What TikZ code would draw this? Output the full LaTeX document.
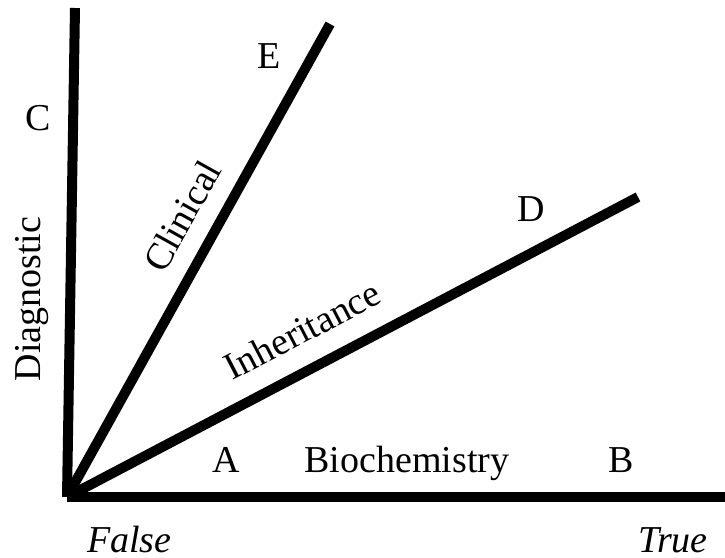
\documentclass[tikz,border=0pt]{standalone}
\usepackage{fontspec}
\setmainfont{Liberation Serif}

\begin{document}
\begin{tikzpicture}[
	x=1pt, y=-1pt,
	axis/.style={line width=10pt, line cap=butt},
	lbl/.style={font=\fontsize{38}{45}\selectfont, inner sep=0pt},
	tick/.style={font=\fontsize{38}{45}\selectfont\itshape, inner sep=0pt},
	]
	
	\useasboundingbox (0,0) rectangle (725,557);
	
	\coordinate (origin) at (67, 497);
	\coordinate (diagEnd) at (75, 8);
	\coordinate (clinEnd) at (330, 24);
	\coordinate (inhEnd)  at (638, 197);
	\coordinate (bioEnd)  at (725, 497);
	
	\draw[axis] (origin) -- (diagEnd);
	\draw[axis] (origin) -- (clinEnd);
	\draw[axis] (origin) -- (inhEnd);
	\draw[axis] (origin) -- (bioEnd);
	
	\node[lbl, anchor=base] (c) at (38.5, 130) {C};
	\node[lbl, anchor=base] (e) at (269, 68)   {E};
	\node[lbl, anchor=base] (d) at (531, 221)  {D};
	\node[lbl, anchor=base] (a) at (226, 472)  {A};
	\node[lbl, anchor=base] (bio) at (407, 472) {Biochemistry};
	\node[lbl, anchor=base] (b) at (621, 472)  {B};
	
	\node[lbl, rotate=90]   (diag) at (32, 299)  {Diagnostic};
	\node[lbl, rotate=60.8] (clin) at (182, 216) {Clinical};
	\node[lbl, rotate=27.5] (inh)  at (302, 330) {Inheritance};
	
	\node[tick, anchor=base west] (false) at (87, 552)  {False};
	\node[tick, anchor=base east] (true)  at (708, 552) {True};
	
\end{tikzpicture}
\end{document}
